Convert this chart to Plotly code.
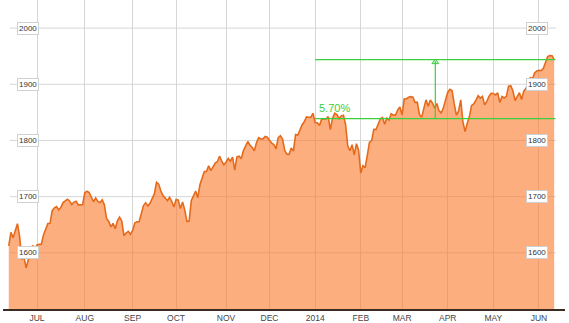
import plotly.graph_objects as go

# S&P 500 daily closes, one value per trading day (Jun 12 2013 .. Jun 11 2014)
jun13 = [1612.5, 1636.4, 1626.7, 1639.0, 1651.8, 1628.9, 1588.2, 1592.4, 1573.1, 1588.0, 1603.3, 1613.2, 1606.3]
jul13 = [1614.1, 1615.0, 1615.4, 1631.9, 1640.5, 1652.3, 1652.6, 1675.0, 1680.2, 1682.5, 1676.3, 1680.9,
         1689.4, 1692.1, 1695.5, 1692.4, 1685.9, 1690.3, 1691.7, 1685.3, 1686.0, 1685.7]
aug13 = [1706.9, 1709.7, 1707.1, 1697.4, 1690.9, 1697.5, 1691.4, 1689.5, 1694.2, 1685.4, 1661.3, 1655.8,
         1646.1, 1652.4, 1642.8, 1657.0, 1663.5, 1656.8, 1630.5, 1635.0, 1638.2, 1633.0]
sep13 = [1639.8, 1653.1, 1655.1, 1655.2, 1671.7, 1684.0, 1689.1, 1683.4, 1688.0, 1697.6, 1704.8, 1725.5,
         1722.3, 1709.9, 1701.8, 1697.4, 1692.8, 1698.7, 1691.8, 1681.6]
oct13 = [1695.0, 1693.9, 1678.7, 1690.5, 1676.1, 1655.5, 1656.4, 1692.6, 1703.2, 1710.1, 1698.1, 1721.5,
         1733.2, 1744.5, 1744.7, 1754.7, 1746.4, 1752.1, 1759.8, 1762.1, 1772.0, 1763.3, 1756.5]
nov13 = [1761.6, 1767.9, 1763.0, 1770.5, 1747.2, 1770.6, 1771.9, 1767.7, 1782.0, 1790.6, 1798.2, 1791.5,
         1787.9, 1781.4, 1795.9, 1804.8, 1802.5, 1802.8, 1807.2, 1805.8]
dec13 = [1800.9, 1795.2, 1792.8, 1785.0, 1805.1, 1808.4, 1802.6, 1782.2, 1775.5, 1775.3, 1786.5, 1781.0,
         1810.7, 1809.6, 1818.3, 1828.0, 1833.3, 1842.0, 1841.4, 1841.1, 1848.4]
jan14 = [1832.0, 1831.4, 1826.8, 1837.9, 1837.5, 1838.1, 1842.4, 1819.2, 1838.9, 1848.4, 1845.9, 1838.7,
         1843.8, 1844.9, 1828.5, 1790.3, 1781.6, 1792.5, 1774.2, 1794.2, 1782.6]
feb14 = [1741.9, 1755.2, 1751.6, 1773.4, 1797.0, 1799.8, 1819.8, 1819.3, 1829.8, 1838.6, 1840.8, 1828.8,
         1839.8, 1836.3, 1847.6, 1845.1, 1845.2, 1854.3, 1859.5]
mar14 = [1845.7, 1873.9, 1873.8, 1877.0, 1878.0, 1877.2, 1867.6, 1868.2, 1846.3, 1841.1, 1858.8, 1872.3,
         1860.8, 1872.0, 1866.5, 1857.4, 1865.6, 1852.6, 1849.0, 1857.6, 1872.3]
apr14 = [1885.5, 1890.9, 1888.8, 1865.1, 1845.0, 1852.0, 1872.2, 1833.1, 1815.7, 1830.6, 1843.0, 1862.3,
         1864.9, 1871.9, 1879.6, 1875.4, 1878.6, 1863.4, 1869.4, 1878.3, 1884.0]
may14 = [1883.7, 1881.1, 1884.7, 1867.7, 1878.2, 1875.6, 1878.5, 1896.7, 1897.5, 1888.5, 1870.9, 1877.9,
         1885.1, 1872.8, 1888.0, 1892.5, 1900.5, 1911.9, 1909.8, 1920.0, 1923.6]
jun14 = [1925.0, 1924.2, 1927.9, 1940.5, 1949.4, 1951.3, 1950.8, 1943.9]

months = [jun13, jul13, aug13, sep13, oct13, nov13, dec13, jan14, feb14, mar14, apr14, may14, jun14]
month_labels = ["JUL", "AUG", "SEP", "OCT", "NOV", "DEC", "2014", "FEB", "MAR", "APR", "MAY", "JUN"]
y_ticks = [1600, 1700, 1800, 1900, 2000]

# comparison overlay
ref_low = 1839.0
ref_high = 1943.9
ref_label = "5.70%"

values = [v for m in months for v in m]
idx = list(range(len(values)))
month_starts = []
pos = 0
for m in months[:-1]:
    pos += len(m)
    month_starts.append(pos)

ref_start = month_starts[6]          # first trading day of 2014
ref_end = idx[-1] + 0.6
ref_mid = (ref_start + ref_end) / 2

GREEN = "#3ccf3c"
FONT = "Liberation Sans, Arial, sans-serif"

fig = go.Figure()
fig.add_trace(go.Scatter(
    x=idx, y=values, mode="lines", fill="tozeroy",
    line=dict(color="#e56a1c", width=1.6),
    fillcolor="rgba(250,120,40,0.6)", hoverinfo="skip", showlegend=False))

shapes = []
for t in y_ticks:
    shapes.append(dict(type="line", xref="x", yref="y", x0=0.6, x1=251.8, y0=t, y1=t,
                       line=dict(color="#d6d6d6", width=1), layer="below"))
for yv in (ref_low, ref_high):
    shapes.append(dict(type="line", xref="x", yref="y", x0=ref_start, x1=ref_end, y0=yv, y1=yv,
                       line=dict(color=GREEN, width=1.2)))
shapes.append(dict(type="line", xref="x", yref="y", x0=ref_mid, x1=ref_mid, y0=ref_low, y1=ref_high - 3,
                   line=dict(color=GREEN, width=1.2)))

fig.add_trace(go.Scatter(
    x=[ref_mid], y=[ref_high - 4.5], mode="markers",
    marker=dict(symbol="triangle-up", size=6, color="rgba(180,240,180,0.6)",
                line=dict(color=GREEN, width=1)),
    hoverinfo="skip", showlegend=False))

annotations = []
for t in y_ticks:
    for xp in (8.9, 243.3):
        annotations.append(dict(x=xp, y=t, xref="x", yref="y", text=str(t), showarrow=False,
                                font=dict(family=FONT, size=8, color="#333"),
                                bgcolor="white", bordercolor="#d0d0d0", borderwidth=1, borderpad=1))
annotations.append(dict(x=ref_start + 0.8, y=1857, xref="x", yref="y", text=ref_label, showarrow=False,
                        xanchor="left", font=dict(family=FONT, size=11, color=GREEN)))

fig.update_layout(
    width=569, height=323, margin=dict(l=3, r=4, t=0, b=14),
    paper_bgcolor="white", plot_bgcolor="white",
    shapes=shapes, annotations=annotations,
    xaxis=dict(range=[-2.646, 255.98], tickvals=month_starts, ticktext=month_labels,
               showgrid=True, gridcolor="#d6d6d6", gridwidth=1, zeroline=False,
               showline=True, linecolor="#3b2b20", linewidth=1.5, ticks="", ticklen=0,
               tickfont=dict(family=FONT, size=8.5, color="#444")),
    yaxis=dict(range=[1500, 2050], showgrid=False, zeroline=False, showticklabels=False, ticks=""),
)

fig.write_html("out.html")
